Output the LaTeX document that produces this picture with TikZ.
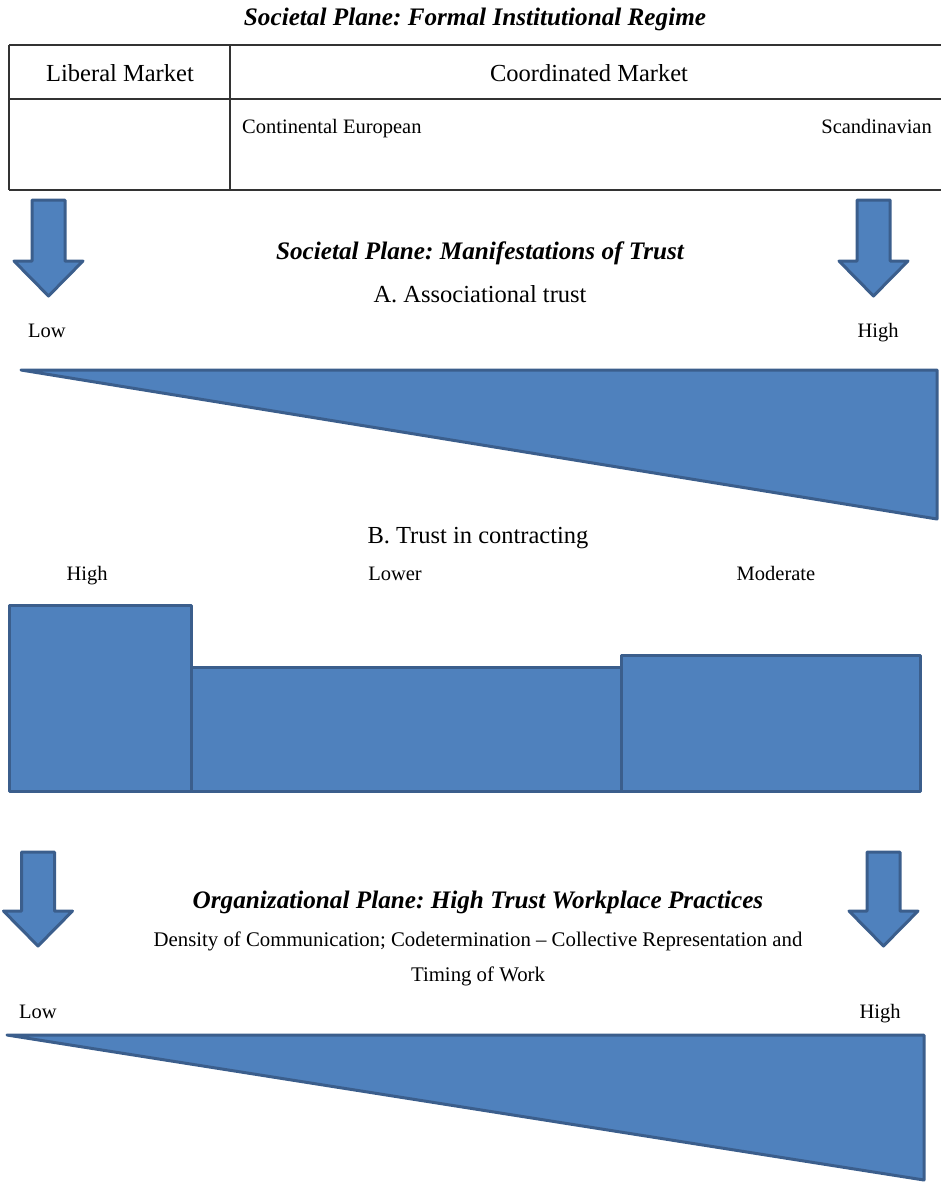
\documentclass[tikz,border=0pt]{standalone}
\usepackage{fontspec}
\setmainfont{Liberation Serif}
\frenchspacing
\definecolor{bfill}{HTML}{4F81BD}
\definecolor{bedge}{HTML}{3B5E8C}
\begin{document}
\begin{tikzpicture}[x=1pt,y=-1pt,
 shapeb/.style={fill=bfill,draw=bedge,line width=3pt,line join=round},
 tline/.style={draw=black!80,line width=1.3pt},
 head/.style={font=\fontsize{25.2}{30}\selectfont\bfseries\itshape\frenchspacing,anchor=base,inner sep=0pt},
 big/.style={font=\fontsize{24.5}{29}\selectfont,anchor=base,inner sep=0pt},
 small/.style={font=\fontsize{20.5}{24}\selectfont,anchor=base,inner sep=0pt},
 pics/dnarrow/.style args={#1/#2}{code={
   \draw[shapeb] (-16.5,0) -- (16.5,0) -- (16.5,#1) -- (34.5,#1) -- (0,#2) -- (-34.5,#1) -- (-16.5,#1) -- cycle;}}
 ]
\useasboundingbox (0,0) rectangle (941,1184);
% table
\draw[tline] (9,45) -- (941,45);
\draw[tline] (9,99) -- (941,99);
\draw[tline] (9,190) -- (941,190);
\draw[tline] (9,45) -- (9,190);
\draw[tline] (230,45) -- (230,190);
% arrows
\pic at (48.5,200) {dnarrow={61/96}};
\pic at (873.5,200) {dnarrow={61/96}};
\pic at (38,852) {dnarrow={59/94}};
\pic at (883.5,852) {dnarrow={59/94}};
% triangles
\draw[shapeb] (21,370) -- (937,370) -- (937,519) -- cycle;
\draw[shapeb] (7,1035) -- (924,1035) -- (924,1180) -- cycle;
% bars
\draw[shapeb] (9,605) rectangle (191,791);
\draw[shapeb] (191,667) rectangle (621,791);
\draw[shapeb] (621,655) rectangle (920,791);
% texts
\node[head] (t1) at (475,25) {Societal Plane: Formal Institutional Regime};
\node[big] (lm) at (120,81) {Liberal Market};
\node[big] (cm) at (589,81) {Coordinated Market};
\node[small, anchor=base west] (ce) at (242,133) {Continental European};
\node[small, anchor=base east] (sc) at (932,133) {Scandinavian};
\node[head] (t2) at (480,259) {Societal Plane: Manifestations of Trust};
\node[big] (a) at (480,302) {A. Associational trust};
\node[small] (low1) at (47,337) {Low};
\node[small] (high1) at (878,337) {High};
\node[big] (b) at (478,543) {B. Trust in contracting};
\node[small] (h2) at (87,580) {High};
\node[small] (lower) at (395,580) {Lower};
\node[small] (mod) at (776,580) {Moderate};
\node[head] (t3) at (478,908) {Organizational Plane: High Trust Workplace Practices};
\node[small, font=\fontsize{20.8}{24}\selectfont] (d) at (478,946) {Density of Communication; Codetermination – Collective Representation and};
\node[small, font=\fontsize{20.8}{24}\selectfont] (tw) at (478,981) {Timing of Work};
\node[small] (low2) at (38,1018) {Low};
\node[small] (high2) at (880,1018) {High};
\end{tikzpicture}
\end{document}
